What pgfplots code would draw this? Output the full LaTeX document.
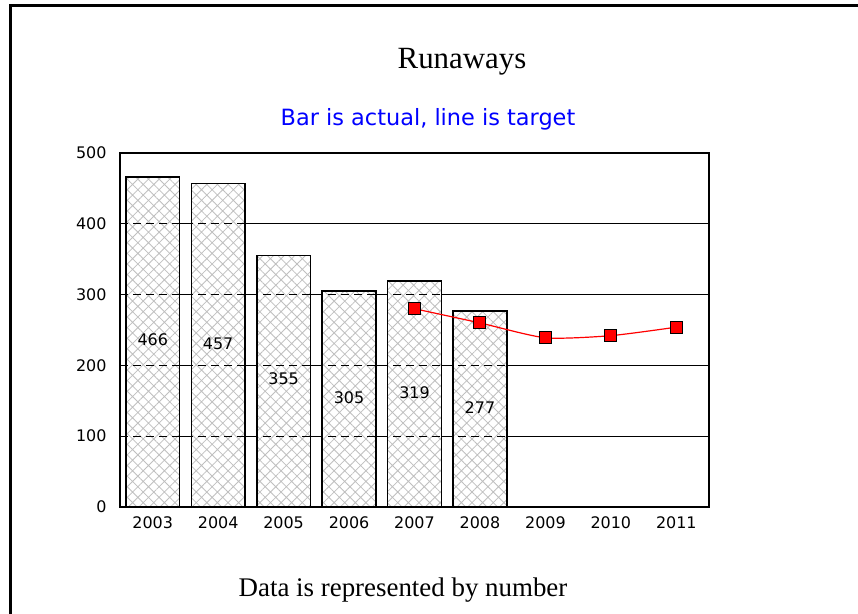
\documentclass[border=0pt]{standalone}
\usepackage{fontspec}
\setmainfont{Liberation Serif}
\newfontfamily\dejavu{DejaVu Sans}
\usepackage{pgfplots}
\pgfplotsset{compat=1.18}
\usetikzlibrary{patterns.meta}
\begin{document}
\begin{tikzpicture}[x=1bp,y=1bp]
\useasboundingbox (0,0) rectangle (858,614);
\fill[white] (0,0) rectangle (858,614);
\draw[line width=3bp] (10.5,0) -- (10.5,608) -- (858,608);
\node[anchor=base,font=\fontsize{31}{36}\selectfont] at (462,545) {Runaways};
\node[anchor=base,font=\dejavu\fontsize{22.5}{26}\selectfont,text=blue] at (428,488) {Bar is actual, line is target};
\node[anchor=base,font=\fontsize{27}{32}\selectfont] at (403,17) {Data is represented by number};
\begin{axis}[
  at={(120bp,107bp)}, anchor=south west,
  scale only axis, width=589bp, height=354bp,
  xmin=-0.5, xmax=8.5, ymin=0, ymax=500,
  xtick={0,1,2,3,4,5,6,7,8},
  xticklabels={2003,2004,2005,2006,2007,2008,2009,2010,2011},
  ytick={0,100,200,300,400,500},
  major tick length=0pt,
  ymajorgrids, grid style={black, line width=1.1bp},
  axis line style={black, line width=1.5bp},
  tick label style={font=\dejavu\fontsize{16}{18}\selectfont},
  /pgf/number format/assume math mode=true,
  yticklabel style={xshift=-10bp},
  xticklabel style={yshift=-6bp},
  clip=false,
]
\addplot[ybar, bar width=0.82, draw=black, line width=1.5bp,
  preaction={fill=white},
  pattern={Hatch[angle=45,distance=7.5bp,line width=0.8bp]}, pattern color=gray!50]
  coordinates {(0,466) (1,457) (2,355) (3,305) (4,319) (5,277)};
\foreach \yy in {100,200,300,400} {
  \edef\tmp{\noexpand\draw[black, line width=1.1bp, dash pattern=on 8bp off 5bp] (axis cs:-0.5,\yy) -- (axis cs:5.5,\yy);}
  \tmp
}
\addplot[draw=none, nodes near coords, point meta=explicit symbolic,
  every node near coord/.append style={anchor=center, font=\dejavu\fontsize{16}{18}\selectfont}]
  coordinates {(0,236) [466] (1,231) [457] (2,181) [355] (3,155) [305] (4,162) [319] (5,140) [277]};
\addplot[red, line width=1.2bp, smooth, tension=0.4, mark=square*,
  mark options={fill=red, draw=black, line width=1bp}, mark size=6bp]
  coordinates {(4,280) (5,260) (6,239) (7,242) (8,254)};
\end{axis}
\end{tikzpicture}
\end{document}
